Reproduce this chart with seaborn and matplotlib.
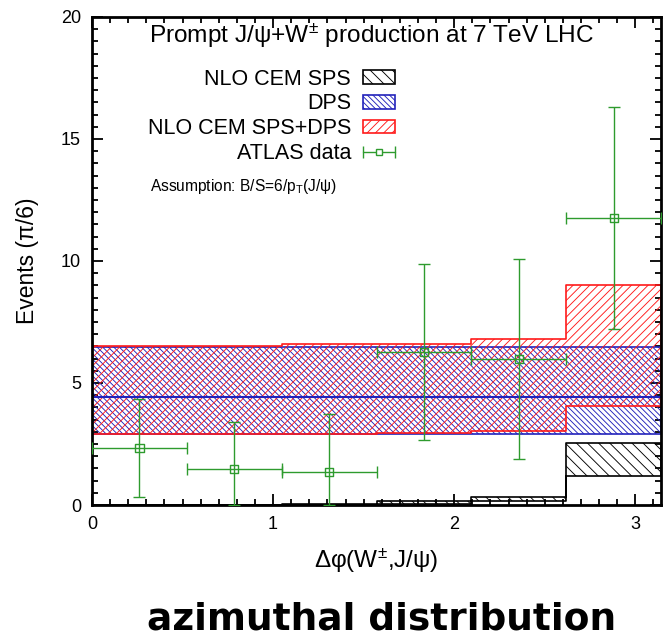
import numpy as np
import pandas as pd
import matplotlib
matplotlib.use("Agg")
import matplotlib.pyplot as plt
import seaborn as sns
from matplotlib.legend_handler import HandlerBase
from matplotlib.lines import Line2D
from matplotlib.patches import Patch
from matplotlib.ticker import MultipleLocator

# ---------------- data ----------------
bin_edges = [0.0, np.pi/6, 2*np.pi/6, 3*np.pi/6, 4*np.pi/6, 5*np.pi/6, np.pi]
sps_lo = [0.0, 0.0, 0.02, 0.05, 0.15, 1.20]
sps_hi = [0.01, 0.02, 0.06, 0.18, 0.34, 2.55]
dps_lo = [2.90, 2.90, 2.90, 2.90, 2.90, 2.90]
dps_hi = [6.46, 6.46, 6.46, 6.46, 6.46, 6.46]
dps_central = [4.44, 4.44, 4.44, 4.44, 4.44, 4.44]
tot_lo = [2.90, 2.90, 2.92, 2.95, 3.05, 4.07]
tot_hi = [6.52, 6.53, 6.58, 6.60, 6.79, 9.02]
data_x = [0.262, 0.785, 1.309, 1.833, 2.356, 2.880]
data_y = [2.33, 1.46, 1.37, 6.28, 5.98, 11.76]
data_err_lo = [2.00, 1.46, 1.37, 3.60, 4.10, 4.55]
data_err_hi = [2.00, 1.93, 2.36, 3.60, 4.10, 4.55]
data_xerr = [np.pi/12] * 6

title = "Prompt J/ψ+W$^{\\pm}$ production at 7 TeV LHC"
labels = ["NLO CEM SPS", "DPS", "NLO CEM SPS+DPS", "ATLAS data"]
assumption = "Assumption: B/S=6/p$_{\\mathrm{T}}$(J/ψ)"
xlabel = "Δφ(W$^{\\pm}$,J/ψ)"
ylabel = "Events (π/6)"
caption = "azimuthal distribution"

# ---------------- style ----------------
sns.set_theme(style="ticks")
plt.rcParams['font.family'] = ['Liberation Sans', 'DejaVu Sans']
plt.rcParams['mathtext.fontset'] = 'custom'
plt.rcParams['mathtext.rm'] = 'Liberation Sans'
plt.rcParams['mathtext.it'] = 'Liberation Sans:italic'
plt.rcParams['mathtext.bf'] = 'Liberation Sans:bold'
plt.rcParams['hatch.linewidth'] = 0.65
for k in ['text.color', 'axes.labelcolor', 'xtick.color', 'ytick.color',
          'axes.edgecolor']:
    plt.rcParams[k] = 'black'

RED = '#ff1a1a'
BLUE = '#2222bb'
BLACK = '#000000'
GREEN = '#2e9b2e'

H_SPS = '\\\\\\'
H_DPS = '\\\\\\\\\\\\'
H_TOT = '////'

fig = plt.figure(figsize=(6.65, 6.39), dpi=100)
ax = fig.add_axes([92/665, 1 - 505/639, 569/665, 488/639])

def step(vals):
    return list(vals) + [vals[-1]]

# SPS
ax.fill_between(bin_edges, step(sps_lo), step(sps_hi), step='post',
                facecolor='none', edgecolor=BLACK, hatch=H_SPS, linewidth=1.2)
# DPS
ax.fill_between(bin_edges, step(dps_lo), step(dps_hi), step='post',
                facecolor='none', edgecolor=BLUE, hatch=H_DPS, linewidth=1.2)
# SPS+DPS
ax.fill_between(bin_edges, step(tot_lo), step(tot_hi), step='post',
                facecolor='none', edgecolor=RED, hatch=H_TOT, linewidth=1.2)

# DPS central line
cdf = pd.DataFrame({"x": bin_edges, "y": step(dps_central)})
sns.lineplot(data=cdf, x="x", y="y", ax=ax, color=BLUE, lw=1.5,
             drawstyle='steps-post', legend=False)

# ATLAS data
ax.errorbar(data_x, data_y, yerr=[data_err_lo, data_err_hi], xerr=data_xerr,
            fmt='none', ecolor=GREEN, elinewidth=1.0, capsize=4, capthick=1.0,
            zorder=5)
ddf = pd.DataFrame({"x": data_x, "y": data_y})
sns.scatterplot(data=ddf, x="x", y="y", ax=ax, marker='s', s=34,
                facecolor='none', edgecolor=GREEN, linewidth=1.0, zorder=6,
                legend=False)

ax.set_xlim(0, np.pi)
ax.set_ylim(0, 20)
ax.xaxis.set_major_locator(MultipleLocator(1))
ax.xaxis.set_minor_locator(MultipleLocator(0.1))
ax.yaxis.set_major_locator(MultipleLocator(5))
ax.yaxis.set_minor_locator(MultipleLocator(0.5))
ax.tick_params(which='both', direction='in', top=True, right=True,
               labelsize=13, width=1.3, colors='black')
ax.tick_params(which='major', length=8, pad=8)
ax.tick_params(which='minor', length=4)
for s in ax.spines.values():
    s.set_linewidth(2)
    s.set_color('black')

ax.set_xlabel(xlabel, fontsize=17.5, labelpad=10)
ax.set_ylabel(ylabel, fontsize=16.5, labelpad=16)

ax.text(0.492, 0.961, title, transform=ax.transAxes, ha='center', va='center',
        fontsize=17.6)
ax.text(0.102, 0.652, assumption, transform=ax.transAxes, ha='left', va='center',
        fontsize=11.2)

# legend
class HandlerXErr(HandlerBase):
    def create_artists(self, legend, orig_handle, xdescent, ydescent, width,
                       height, fontsize, trans):
        x0, x1 = -xdescent, width - xdescent
        yc = (height - ydescent) / 2
        line = Line2D([x0, x1], [yc, yc], color=GREEN, lw=1.0)
        caps = Line2D([x0, x1], [yc, yc], ls='none', marker='|', ms=8,
                      mew=1.0, color=GREEN)
        mk = Line2D([(x0 + x1) / 2], [yc], ls='none', marker='s', ms=5,
                    mfc='white', mec=GREEN, mew=1.0)
        for a in (line, caps, mk):
            a.set_transform(trans)
        return [line, caps, mk]

h_sps = Patch(facecolor='none', edgecolor=BLACK, hatch=H_SPS, linewidth=1.2)
h_dps = Patch(facecolor='none', edgecolor=BLUE, hatch=H_DPS, linewidth=1.2)
h_tot = Patch(facecolor='none', edgecolor=RED, hatch=H_TOT, linewidth=1.2)
h_dat = Line2D([], [], color=GREEN)
ax.legend([h_sps, h_dps, h_tot, h_dat], labels,
          handler_map={h_dat: HandlerXErr()},
          loc='upper right', bbox_to_anchor=(0.533, 0.894), frameon=False,
          markerfirst=False, fontsize=15.5, borderpad=0, borderaxespad=0,
          labelspacing=0.175, handlelength=1.5, handleheight=0.58,
          handletextpad=0.55)

fig.text(382/665, 1 - 630/639, caption, ha='center', va='baseline',
         fontsize=27, fontweight='bold', family='DejaVu Sans')

fig.savefig("out.png", dpi=100)
